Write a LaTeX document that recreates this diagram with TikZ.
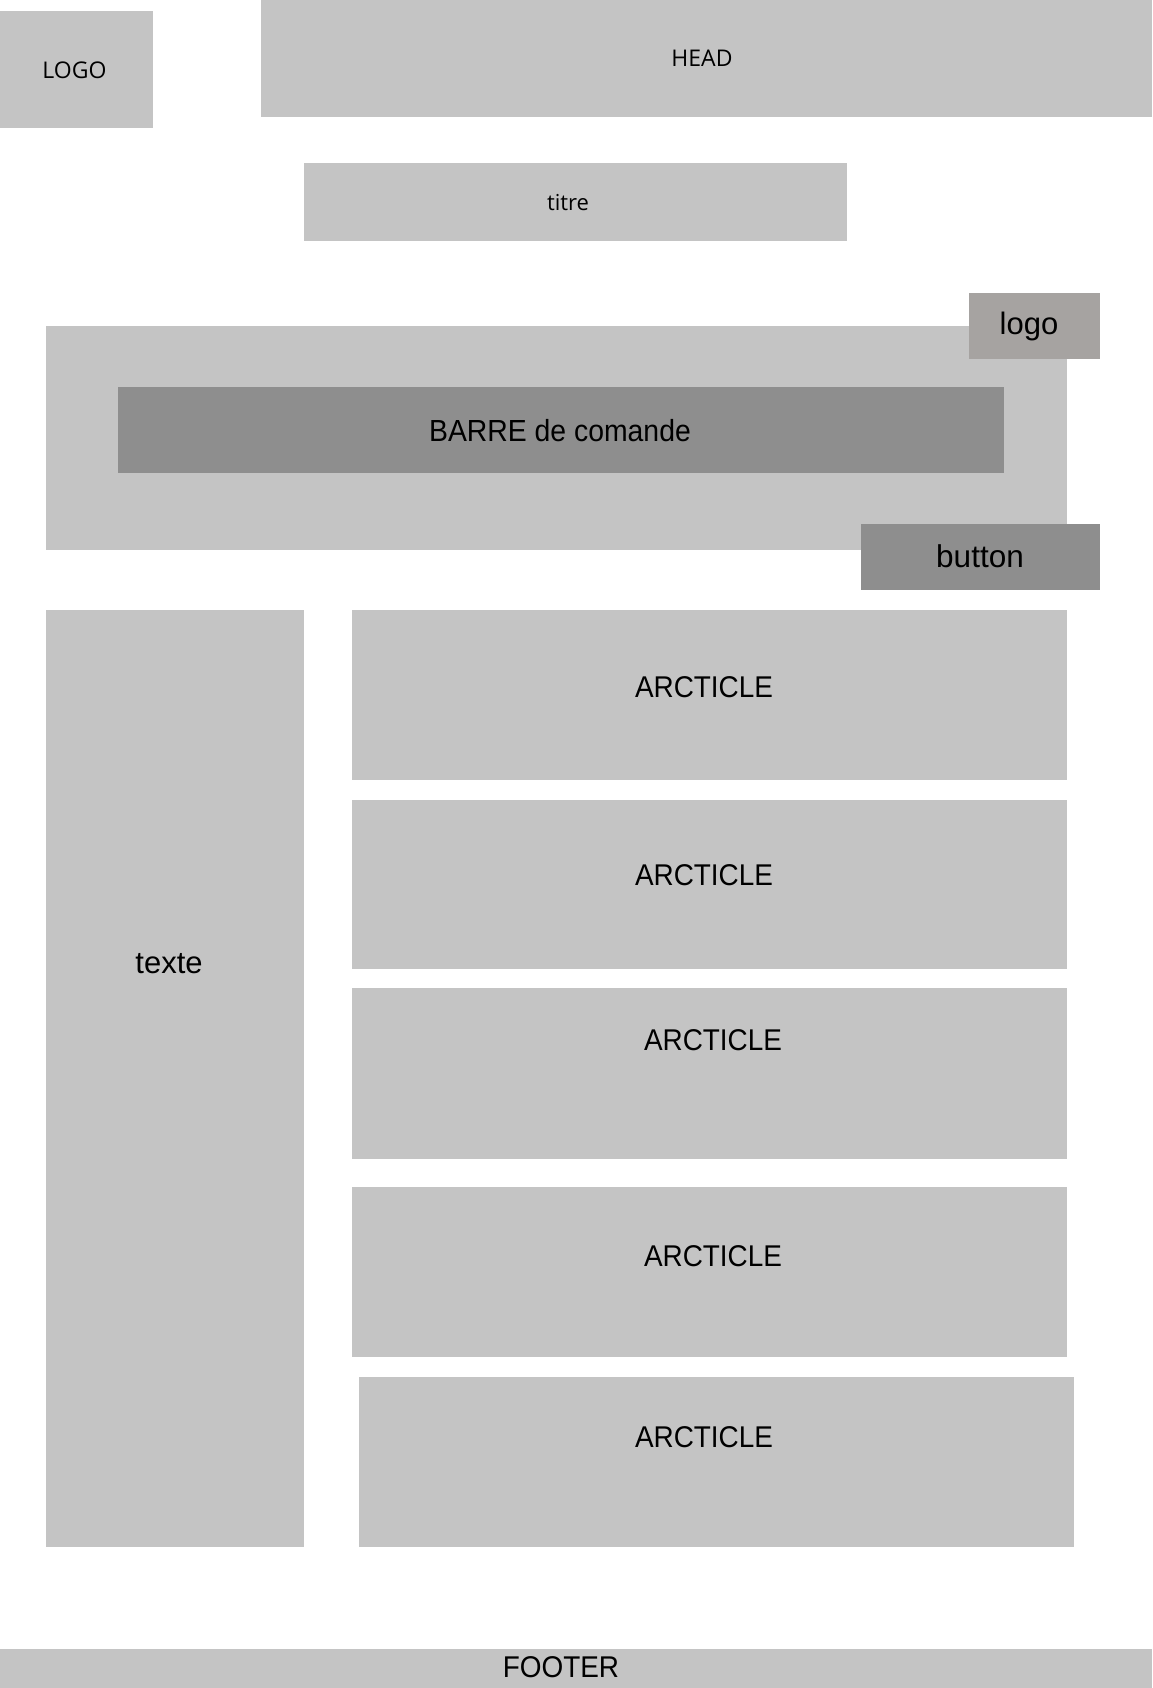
\documentclass[tikz,border=0pt]{standalone}
\usepackage{fontspec}
\newfontfamily\robfont[FakeStretch=0.93]{Liberation Sans}
\newfontfamily\robwidefont{Liberation Sans}
\newfontfamily\opsfont{Open Sans}
\definecolor{boxgray}{HTML}{C4C4C4}
\definecolor{bargray}{HTML}{8E8E8E}
\definecolor{logogray}{HTML}{A6A3A1}
\begin{document}
\begin{tikzpicture}[x=1pt,y=-1pt,
  box/.style={fill=boxgray,draw=none,inner sep=0pt,anchor=north west},
  darkbox/.style={box,fill=bargray},
  logobox/.style={box,fill=logogray},
  lbl/.style={anchor=base,inner sep=0pt,text=black,font=\robfont\fontsize{30}{36}\selectfont},
  widelbl/.style={lbl,font=\robwidefont\fontsize{30}{36}\selectfont},
  smalllbl/.style={lbl,font=\opsfont\fontsize{23}{28}\selectfont}]
% page
\fill[white] (0,0) rectangle (1152,1688);
\useasboundingbox (0,0) rectangle (1152,1688);
% header row
\node[box,minimum width=153pt,minimum height=117pt] (logoL) at (0,11) {};
\node[box,minimum width=891pt,minimum height=117pt] (head) at (261,0) {};
\node[box,minimum width=543pt,minimum height=78pt] (titre) at (304,163) {};
% command bar block
\node[box,minimum width=1021pt,minimum height=224pt] (bloc) at (46,326) {};
\node[darkbox,minimum width=886pt,minimum height=86pt] (barre) at (118,387) {};
\node[logobox,minimum width=131pt,minimum height=66pt] (logoS) at (969,293) {};
\node[darkbox,minimum width=239pt,minimum height=66pt] (button) at (861,524) {};
% side text column
\node[box,minimum width=258pt,minimum height=937pt] (texte) at (46,610) {};
% articles
\node[box,minimum width=715pt,minimum height=170pt] (art1) at (352,610) {};
\node[box,minimum width=715pt,minimum height=169pt] (art2) at (352,800) {};
\node[box,minimum width=715pt,minimum height=171pt] (art3) at (352,988) {};
\node[box,minimum width=715pt,minimum height=170pt] (art4) at (352,1187) {};
\node[box,minimum width=715pt,minimum height=170pt] (art5) at (359,1377) {};
% footer
\node[box,minimum width=1152pt,minimum height=39pt] (footer) at (0,1649) {};
% labels
\node[smalllbl] (logoL-t) at (74.5,79) {LOGO};
\node[smalllbl] (head-t) at (702,67) {HEAD};
\node[smalllbl,font=\opsfont\fontsize{22}{27}\selectfont] (titre-t) at (568,211) {titre};
\node[lbl,font=\robfont\fontsize{30.5}{36}\selectfont] (barre-t) at (560,441) {BARRE de comande};
\node[widelbl,font=\robwidefont\fontsize{31}{37}\selectfont] (logoS-t) at (1029,334) {logo};
\node[widelbl,font=\robwidefont\fontsize{31.5}{38}\selectfont] (button-t) at (980,567) {button};
\node[widelbl,font=\robwidefont\fontsize{31}{37}\selectfont] (texte-t) at (169,973) {texte};
\node[lbl] (art1-t) at (704,697) {ARCTICLE};
\node[lbl] (art2-t) at (704,885) {ARCTICLE};
\node[lbl] (art3-t) at (713,1050) {ARCTICLE};
\node[lbl] (art4-t) at (713,1266) {ARCTICLE};
\node[lbl] (art5-t) at (704,1447) {ARCTICLE};
\node[lbl] (footer-t) at (561,1677) {FOOTER};
\end{tikzpicture}
\end{document}
